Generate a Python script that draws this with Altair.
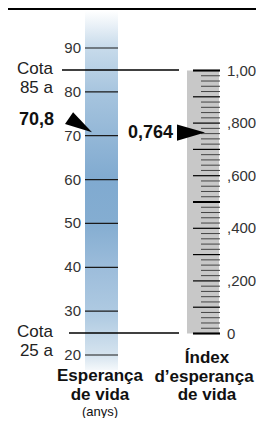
import altair as alt
import pandas as pd

# ---- data ----
years_ticks = [20, 30, 40, 50, 60, 70, 80, 90]
index_major = [0.0, 0.1, 0.2, 0.3, 0.4, 0.5, 0.6, 0.7, 0.8, 0.9, 1.0]
index_heavy = [0.0, 0.5, 1.0]
index_minor = [round(i * 0.02, 2) for i in range(51) if i % 5 != 0]
index_label_vals = [0.0, 0.2, 0.4, 0.6, 0.8, 1.0]
index_label_text = ["0", ",200", ",400", ",600", ",800", "1,00"]
cota_vals = [85, 25]
cota_text = ["Cota\n85 a", "Cota\n25 a"]
cota_x = [54, 61]
life_expectancy = [70.8]
life_expectancy_text = ["70,8"]
le_index = [0.764]
le_index_text = ["0,764"]

FONT = "Liberation Sans"

ys = alt.Scale(domain=[20, 90], range=[347, 40])
yi = alt.Scale(domain=[0, 1], range=[325.5, 62.5])

one = pd.DataFrame({"a": [0]})

# gradient column
grad = alt.Chart(one).mark_rect(
    fill=alt.Gradient(
        gradient="linear",
        stops=[
            alt.GradientStop(color="#ffffff", offset=0.0),
            alt.GradientStop(color="#c8dbeb", offset=0.10),
            alt.GradientStop(color="#a6c4de", offset=0.23),
            alt.GradientStop(color="#80aad0", offset=0.47),
            alt.GradientStop(color="#84add1", offset=0.59),
            alt.GradientStop(color="#9dbddb", offset=0.72),
            alt.GradientStop(color="#b0cbe2", offset=0.85),
            alt.GradientStop(color="#d6e4ef", offset=0.96),
            alt.GradientStop(color="#f4f8fb", offset=1.0),
        ],
        x1=0, x2=0, y1=0, y2=1,
    )
).encode(x=alt.value(77), x2=alt.value(110), y=alt.value(3), y2=alt.value(362))

left_ticks = alt.Chart(pd.DataFrame({"v": years_ticks})).mark_rule(
    color="#1a1a1a", strokeWidth=1.2
).encode(x=alt.value(77), x2=alt.value(110), y=alt.Y("v:Q", scale=ys, axis=None))

left_labels = alt.Chart(pd.DataFrame({"v": years_ticks})).mark_text(
    align="right", baseline="middle", font=FONT, fontSize=15, color="#333333"
).encode(x=alt.value(73), y=alt.Y("v:Q", scale=ys, axis=None), text="v:Q")

cota_df = pd.DataFrame({"v": cota_vals, "t": cota_text, "x0": cota_x})
cota_lines = alt.Chart(cota_df).mark_rule(color="#000000", strokeWidth=1.5).encode(
    x=alt.X("x0:Q", scale=None), x2=alt.value(171), y=alt.Y("v:Q", scale=ys, axis=None)
)
cota_labels = alt.Chart(cota_df).mark_text(
    align="right", baseline="middle", font=FONT, fontSize=17, color="#222222",
    lineBreak="\n", lineHeight=19, dy=-1
).encode(x=alt.value(45), y=alt.Y("v:Q", scale=ys, axis=None), text="t:N")

le_df = pd.DataFrame({"v": life_expectancy, "t": life_expectancy_text})
le_arrow = alt.Chart(le_df).mark_point(
    shape="M0,0 L-0.7,-0.74 L-1,-0.3 Z", filled=True, opacity=1,
    color="#000000", size=2916, strokeWidth=0
).encode(x=alt.value(84), y=alt.Y("v:Q", scale=ys, axis=None))
le_label = alt.Chart(le_df).mark_text(
    align="right", baseline="middle", font=FONT, fontSize=18, fontWeight="bold",
    color="#111111", dy=-12
).encode(x=alt.value(46), y=alt.Y("v:Q", scale=ys, axis=None), text="t:N")

left_layer = alt.layer(grad, left_ticks, left_labels, cota_lines, cota_labels, le_arrow, le_label)

# right index scale
gray = alt.Chart(pd.DataFrame({"top": [1.0], "bot": [0.0]})).mark_rect(color="#c8c8c8").encode(
    x=alt.value(179), x2=alt.value(211),
    y=alt.Y("top:Q", scale=yi, axis=None), y2="bot:Q"
)
minor = alt.Chart(pd.DataFrame({"v": index_minor})).mark_rule(color="#444444", strokeWidth=1).encode(
    x=alt.value(193), x2=alt.value(212), y=alt.Y("v:Q", scale=yi, axis=None)
)
major = alt.Chart(pd.DataFrame({"v": index_major})).mark_rule(color="#000000", strokeWidth=1.2).encode(
    x=alt.value(185), x2=alt.value(212), y=alt.Y("v:Q", scale=yi, axis=None)
)
heavy = alt.Chart(pd.DataFrame({"v": index_heavy})).mark_rule(color="#000000", strokeWidth=2).encode(
    x=alt.value(185), x2=alt.value(212), y=alt.Y("v:Q", scale=yi, axis=None)
)
idx_labels = alt.Chart(pd.DataFrame({"v": index_label_vals, "t": index_label_text})).mark_text(
    align="left", baseline="middle", font=FONT, fontSize=15, color="#333333"
).encode(x=alt.value(219), y=alt.Y("v:Q", scale=yi, axis=None), text="t:N")

li_df = pd.DataFrame({"v": le_index, "t": le_index_text})
li_arrow = alt.Chart(li_df).mark_point(
    shape="M0,0 L-1,-0.29 L-1,0.29 Z", filled=True, opacity=1,
    color="#000000", size=3136, strokeWidth=0
).encode(x=alt.value(197), y=alt.Y("v:Q", scale=yi, axis=None))
li_label = alt.Chart(li_df).mark_text(
    align="right", baseline="middle", font=FONT, fontSize=18, fontWeight="bold",
    color="#111111"
).encode(x=alt.value(165), y=alt.Y("v:Q", scale=yi, axis=None), text="t:N")

right_layer = alt.layer(gray, minor, major, heavy, idx_labels, li_arrow, li_label)

# titles and frame
border = alt.Chart(one).mark_rule(color="#000000", strokeWidth=2).encode(
    x=alt.value(0), x2=alt.value(248), y=alt.value(1)
)

def txt(s, x, y, size=17, weight="bold"):
    return alt.Chart(one).mark_text(
        align="center", baseline="middle", font=FONT, fontSize=size,
        fontWeight=weight, color="#111111"
    ).encode(x=alt.value(x), y=alt.value(y), text=alt.value(s))

titles = alt.layer(
    txt("Esperança", 92, 368),
    txt("de vida", 92, 387),
    txt("(anys)", 92, 404, size=13, weight="normal"),
    txt("Índex", 199, 350),
    txt("d\u2019esperança", 196, 369),
    txt("de vida", 199, 387),
)

chart = alt.layer(left_layer, right_layer, titles, border).resolve_scale(y="independent").properties(
    width=248, height=410, padding=0, autosize="none"
).configure_view(stroke=None)

chart.save("out.html", embed_options={"renderer": "svg", "actions": False})
